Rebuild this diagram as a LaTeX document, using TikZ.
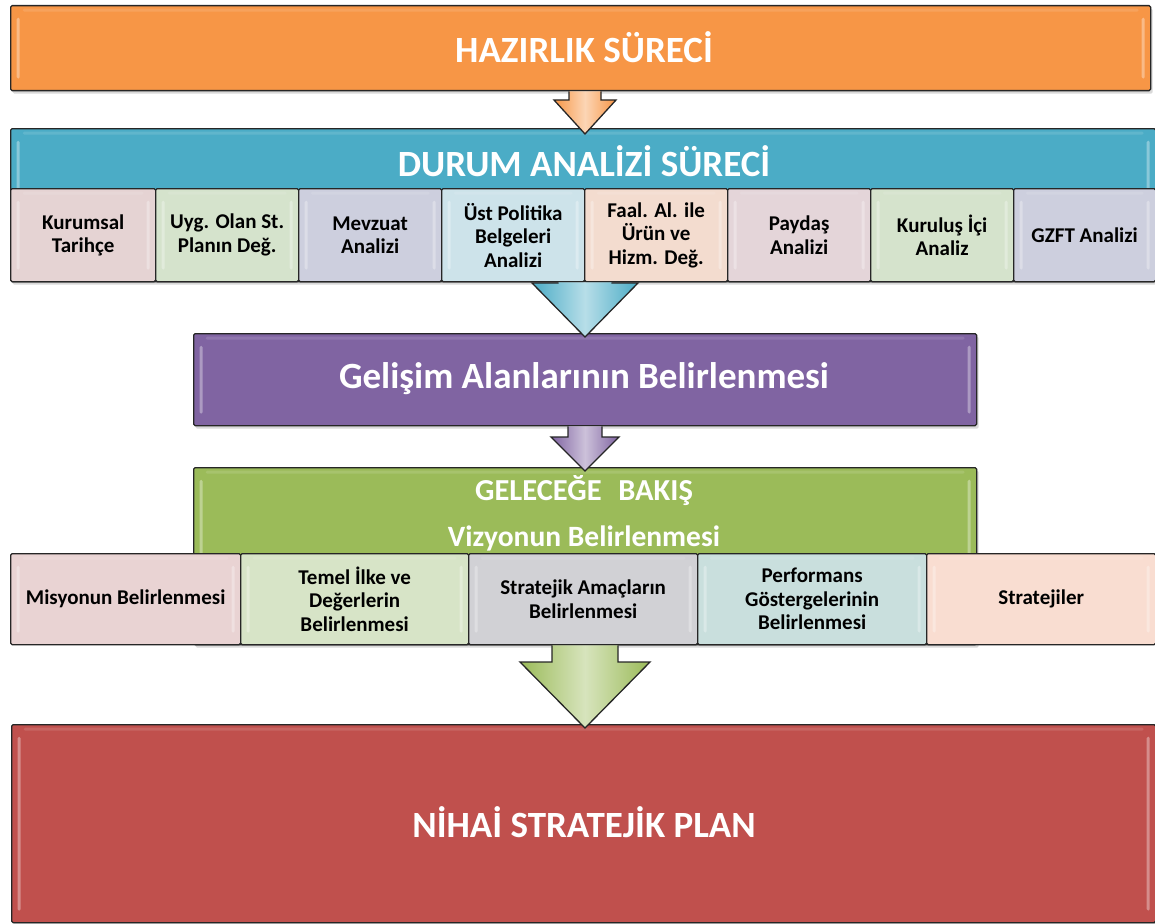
\documentclass[tikz,border=0pt]{standalone}
\usepackage{fontspec}
\setmainfont{Carlito}
\usetikzlibrary{calc,shadows}
\definecolor{orangeC}{HTML}{F79646}
\definecolor{blueC}{HTML}{4BACC6}
\definecolor{purpleC}{HTML}{8064A2}
\definecolor{greenC}{HTML}{9BBB59}
\definecolor{redC}{HTML}{C0504D}
\definecolor{sA}{HTML}{E5D3D3}
\definecolor{sB}{HTML}{D5E3CC}
\definecolor{sC}{HTML}{CDCFDE}
\definecolor{sD}{HTML}{CDE3EA}
\definecolor{sE}{HTML}{F3DCCF}
\definecolor{sF}{HTML}{E4D5D9}
\definecolor{rA}{HTML}{E9D3D3}
\definecolor{rB}{HTML}{D7E4C7}
\definecolor{rC}{HTML}{D1D1D5}
\definecolor{rD}{HTML}{C9DFDD}
\definecolor{rE}{HTML}{F9DDD1}
\newcommand\blockarr[6]{%
  \shade[left color=#6, right color=#6, middle color=#6!40!white] let \p1=#1, \p2=#2 in
    (\x1-#3pt,\y1) -- (\x1-#3pt,\y2+#5pt) -- (\x1-#4pt,\y2+#5pt) -- (\x2,\y2)
    -- (\x1+#4pt,\y2+#5pt) -- (\x1+#3pt,\y2+#5pt) -- (\x1+#3pt,\y1) -- cycle;
  \draw[arrline] let \p1=#1, \p2=#2 in
    (\x1-#3pt,\y1) -- (\x1-#3pt,\y2+#5pt) -- (\x1-#4pt,\y2+#5pt) -- (\x2,\y2)
    -- (\x1+#4pt,\y2+#5pt) -- (\x1+#3pt,\y2+#5pt) -- (\x1+#3pt,\y1);
}
\begin{document}
\begin{tikzpicture}[x=1pt,y=-1pt,
  bevel/.style={path picture={
    \fill[white,opacity=#1,rounded corners=1.5pt]
      ([xshift=6pt,yshift=-12pt]path picture bounding box.north west) rectangle
      ([xshift=9pt,yshift=12pt]path picture bounding box.south west);
    \fill[white,opacity=#1,rounded corners=1.5pt]
      ([xshift=-6pt,yshift=-12pt]path picture bounding box.north east) rectangle
      ([xshift=-9pt,yshift=12pt]path picture bounding box.south east);
    \fill[white,opacity=#1*0.35]
      ([xshift=12pt,yshift=-3pt]path picture bounding box.north west) rectangle
      ([xshift=-12pt,yshift=-6pt]path picture bounding box.north east);
  }},
  box/.style={draw=black!85, line width=1.3pt, rounded corners=1.5pt, inner sep=0pt, anchor=north west},
  mainbox/.style={box, bevel=0.35, drop shadow={opacity=0.3, shadow xshift=2pt, shadow yshift=-3pt}},
  sub/.style={box, bevel=0.3, font=\bfseries\fontsize{21}{23.5}\selectfont, align=center, text=black},
  title/.style={text=white, font=\bfseries\fontsize{37}{42}\selectfont, inner sep=0pt},
  arrline/.style={draw=black!85, line width=1.3pt, line join=miter},
]
\useasboundingbox (0,0) rectangle (1155,923);
\coordinate (axis) at (585,0);

% HAZIRLIK
\node[mainbox, fill=orangeC, minimum width=1140pt, minimum height=85pt] (hz) at (10,5) {};
\node[title] (hzt) at (584,47) {HAZIRLIK SÜRECİ};

% DURUM ANALIZI
\node[mainbox, fill=blueC, minimum width=1145pt, minimum height=153pt] (da) at (10,128) {};
\node[title] (dat) at (584,161) {DURUM ANALİZİ SÜRECİ};
\node[sub, fill=sA, minimum width=145pt, minimum height=93pt] (s1) at (10,188) {Kurumsal\\Tarihçe};
\node[sub, fill=sB, minimum width=143pt, minimum height=93pt] (s2) at (155,188) {Uyg. Olan St.\\Planın Değ.};
\node[sub, fill=sC, minimum width=143pt, minimum height=93pt] (s3) at (298,188) {Mevzuat\\Analizi};
\node[sub, fill=sD, minimum width=143pt, minimum height=93pt] (s4) at (441,188) {Üst Politika\\Belgeleri\\Analizi};
\node[sub, fill=sE, minimum width=143pt, minimum height=93pt] (s5) at (584,188) {Faal. Al. ile\\Ürün ve\\Hizm. Değ.};
\node[sub, fill=sF, minimum width=143pt, minimum height=93pt] (s6) at (727,188) {Paydaş\\Analizi};
\node[sub, fill=sB, minimum width=143pt, minimum height=93pt] (s7) at (870,188) {Kuruluş İçi\\Analiz};
\node[sub, fill=sC, minimum width=142pt, minimum height=93pt] (s8) at (1013,188) {GZFT Analizi};

% GELISIM
\node[mainbox, fill=purpleC, minimum width=783pt, minimum height=92pt] (ga) at (193,333) {};
\node[title] (gat) at (584,379) {Gelişim Alanlarının Belirlenmesi};

% GELECEGE BAKIS
\node[mainbox, fill=greenC, minimum width=783pt, minimum height=177pt] (gb) at (193,467) {};
\node[title, font=\bfseries\fontsize{30.5}{34}\selectfont] (gbt) at (584,491) {GELECEĞE\hspace{0.55em}BAKIŞ};
\node[title, font=\bfseries\fontsize{29.5}{34}\selectfont] (gbv) at (584,538) {Vizyonun Belirlenmesi};
\node[sub, fill=rA, minimum width=230pt, minimum height=91pt] (r1) at (10,553) {Misyonun Belirlenmesi};
\node[sub, fill=rB, minimum width=228pt, minimum height=91pt] (r2) at (240,553) {Temel İlke ve\\Değerlerin\\Belirlenmesi};
\node[sub, fill=rC, minimum width=229pt, minimum height=91pt] (r3) at (468,553) {Stratejik Amaçların\\Belirlenmesi};
\node[sub, fill=rD, minimum width=229pt, minimum height=91pt] (r4) at (697,553) {Performans\\Göstergelerinin\\Belirlenmesi};
\node[sub, fill=rE, minimum width=229pt, minimum height=91pt] (r5) at (926,553) {Stratejiler};

% NIHAI
\node[mainbox, fill=redC, minimum width=1144pt, minimum height=198pt] (np) at (11,724) {};
\node[title] (npt) at (584,822) {NİHAİ STRATEJİK PLAN};

% arrows
\blockarr{(axis |- hz.south)}{($(axis |- da.north)+(0,6)$)}{16}{31}{34}{orangeC}
\blockarr{(axis |- da.south)}{($(axis |- ga.north)+(0,4)$)}{27}{53}{54}{blueC}
\blockarr{(axis |- ga.south)}{($(axis |- gb.north)+(0,4)$)}{17}{34}{34}{purpleC}
\blockarr{(axis |- gb.south)}{($(axis |- np.north)+(0,4)$)}{33}{65}{66}{greenC}
\end{tikzpicture}
\end{document}
